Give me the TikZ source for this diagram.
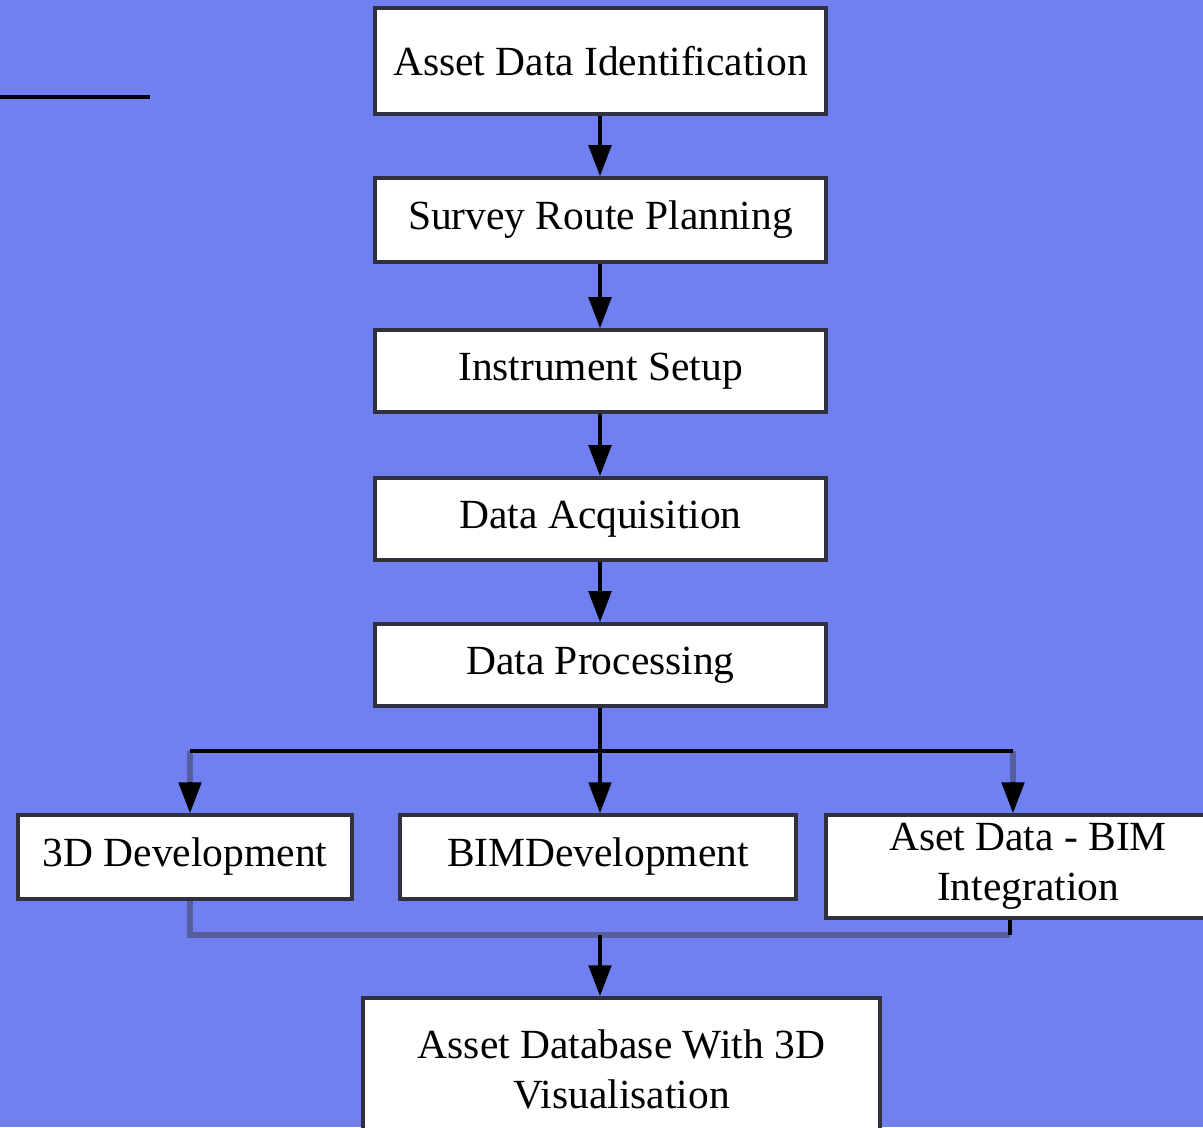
\documentclass[tikz,border=0pt]{standalone}
\usepackage{fontspec}
\setmainfont{Liberation Serif}
\usetikzlibrary{arrows.meta}
\definecolor{bgblue}{HTML}{7080F0}
\definecolor{boxedge}{HTML}{30303E}
\definecolor{mergeline}{HTML}{565E9E}
\newcommand\pxu{0.025cm}
\tikzset{
  box/.style={draw=boxedge, line width=2.6pt, fill=white, inner sep=0pt, align=center,
    font=\fontsize{29.5pt}{35.5pt}\selectfont, text=black},
  conn/.style={line width=2.6pt, draw=black},
  arr/.style={conn, -{Triangle[width=16pt,length=22pt]}},
  mline/.style={line width=4pt, draw=mergeline},
}
\begin{document}
\begin{tikzpicture}[x=0.025cm, y=-0.025cm]
\useasboundingbox (0,0) rectangle (1203,1127);
\clip (0,0) rectangle (1203,1127);
\fill[bgblue] (0,0) rectangle (1203,1127);
\draw[line width=2.4pt, black] (0,97) -- (150,97);

\node[box, minimum width=451*\pxu, minimum height=106*\pxu] (b1) at (600.5,61) {Asset Data Identification};
\node[box, minimum width=451*\pxu, minimum height=84*\pxu] (b2) at (600.5,220) {Survey Route Planning};
\node[box, minimum width=451*\pxu, minimum height=82*\pxu] (b3) at (600.5,371) {Instrument Setup};
\node[box, minimum width=451*\pxu, minimum height=82*\pxu] (b4) at (600.5,519) {Data Acquisition};
\node[box, minimum width=451*\pxu, minimum height=82*\pxu] (b5) at (600.5,665) {Data Processing};
\node[box, minimum width=334*\pxu, minimum height=84*\pxu] (b6) at (185,857) {3D Development};
\node[box, minimum width=396*\pxu, minimum height=84*\pxu] (b7) at (598,857) {BIMDevelopment};
\node[box, minimum width=404*\pxu, minimum height=103*\pxu] (b8) at (1028,866.5) {Aset Data - BIM\\Integration};
\node[box, minimum width=517*\pxu, minimum height=142*\pxu] (b9) at (621.5,1069) {Asset Database With 3D\\Visualisation};

\coordinate (bl) at (190,751);
\coordinate (bm) at (600,751);
\coordinate (br) at (1013,751);
\coordinate (blx) at (190,782);
\coordinate (brx) at (1013,782);
\coordinate (ml) at (190,935);
\coordinate (mm) at (600,935);
\coordinate (mr) at (1010,935);

\draw[arr] (b1.south -| bm) -- (b2.north -| bm);
\draw[arr] (b2.south -| bm) -- (b3.north -| bm);
\draw[arr] (b3.south -| bm) -- (b4.north -| bm);
\draw[arr] (b4.south -| bm) -- (b5.north -| bm);

\draw[conn] (b5.south -| bm) -- (bm);
\draw[arr] (bl) -- (bl |- b6.north);
\draw[arr] (bm) -- (bm |- b7.north);
\draw[arr] (br) -- (br |- b8.north);
\draw[mline] (bl) -- (blx);
\draw[mline] (br) -- (brx);
\draw[conn] (bl) -- (br);

\draw[mline] (b6.south -| ml) -- (ml) -- (mr);
\draw[conn] (b8.south -| mr) -- (mr);
\draw[arr] (mm) -- (b9.north -| mm);
\end{tikzpicture}
\end{document}
